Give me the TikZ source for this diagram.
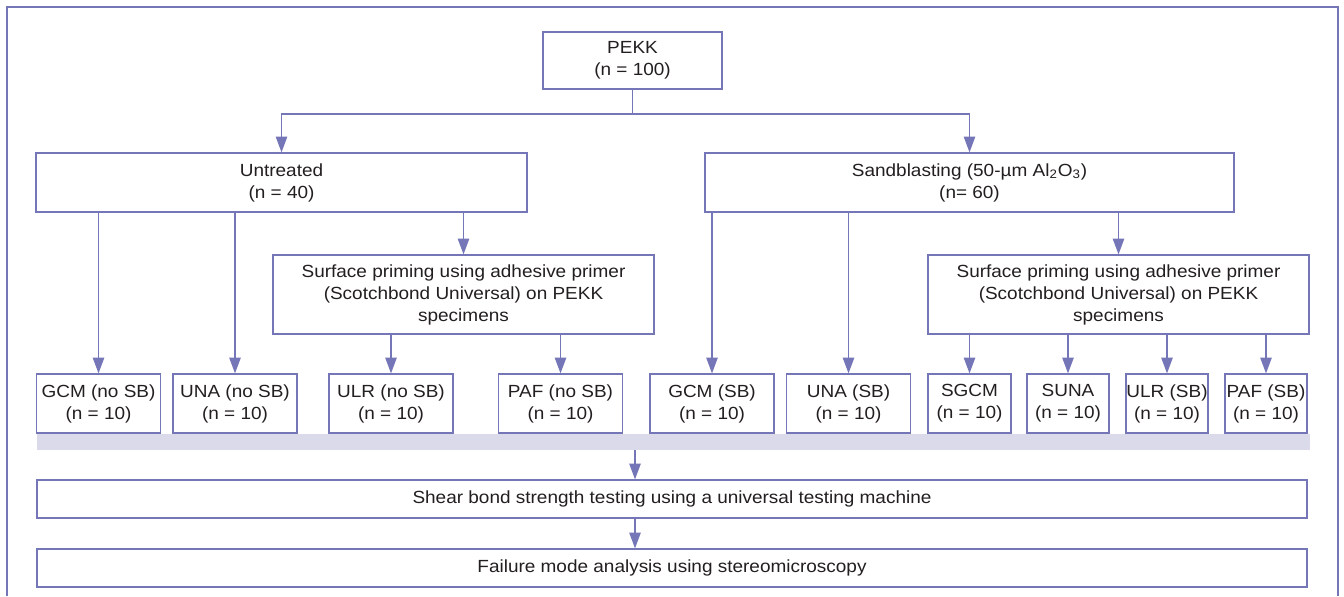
\documentclass[tikz,border=0pt]{standalone}
\usepackage{fontspec}
\setmainfont{Liberation Sans}[FakeStretch=1.08]
\usepackage{tikz}
\usetikzlibrary{calc,arrows.meta}
\definecolor{flowline}{HTML}{7476B8}
\definecolor{flowbar}{HTML}{DADAEB}
\definecolor{flowtext}{HTML}{231F20}
\def\pu{0.02cm}
\tikzset{>={Triangle[length=9pt,width=6.5pt]},
    box/.style={draw=flowline, line width=0.7pt, fill=white, align=center,
        text=flowtext, inner sep=0pt, font=\fontsize{10}{12.5}\selectfont},
    sz/.style 2 args={minimum width=#1*\pu, minimum height=#2*\pu},
    link/.style={draw=flowline, line width=0.8pt}}

\begin{document}
\begin{tikzpicture}[x=0.02cm, y=-0.02cm]
    \useasboundingbox (0,0) rectangle (1344,596);
    \draw[flowline, line width=0.6pt] (7,596) -- (7,7) -- (1338,7) -- (1338,596);
    % groups
    \node[box, sz={179}{57}] at (632.5, 60.5) (pekk) {PEKK\\(n = 100)};
    \node[box, sz={491}{59}] at (281.5, 182.5) (untr) {Untreated\\(n = 40)};
    \node[box, sz={529}{59}] at (969.5, 182.5) (sand)
        {Sandblasting (50-µm Al\textsubscript{2}O\textsubscript{3})\\(n= 60)};
    \node[box, sz={381}{79}] at (463.5, 294.5) (primu)
        {Surface priming using adhesive primer\\(Scotchbond Universal) on PEKK\\specimens};
    \node[box, sz={381}{79}] at (1118.5, 294.5) (prims)
        {Surface priming using adhesive primer\\(Scotchbond Universal) on PEKK\\specimens};
    % specimen groups
    \node[box, sz={124}{59}] at (98.5, 403.5) (gcmu) {GCM (no SB)\\(n = 10)};
    \node[box, sz={124}{59}] at (235, 403.5) (unau) {UNA (no SB)\\(n = 10)};
    \node[box, sz={124}{59}] at (391, 403.5) (ulru) {ULR (no SB)\\(n = 10)};
    \node[box, sz={124}{59}] at (560.5, 403.5) (pafu) {PAF (no SB)\\(n = 10)};
    \node[box, sz={124}{59}] at (712, 403.5) (gcms) {GCM (SB)\\(n = 10)};
    \node[box, sz={124}{59}] at (848.5, 403.5) (unas) {UNA (SB)\\(n = 10)};
    \node[box, sz={83}{59}] at (969.5, 403.5) (sgcm) {SGCM\\(n = 10)};
    \node[box, sz={82}{59}] at (1068, 403.5) (suna) {SUNA\\(n = 10)};
    \node[box, sz={82}{59}] at (1167, 403.5) (ulrs) {ULR (SB)\\(n = 10)};
    \node[box, sz={82}{59}] at (1266, 403.5) (pafs) {PAF (SB)\\(n = 10)};
    \node[fill=flowbar, inner sep=0pt, sz={1273}{16}] at (673.5, 442) (bar) {};
    % testing
    \node[box, sz={1270}{38}] at (672, 499) (shear)
        {Shear bond strength testing using a universal testing machine};
    \node[box, sz={1270}{38}] at (672, 568) (fail)
        {Failure mode analysis using stereomicroscopy};
    % connectors
    \coordinate (split) at (632.5, 114);
    \coordinate (mid) at (635, 0);
    \draw[link] (pekk) -- (split);
    \draw[link, ->] (split) -| (untr.north);
    \draw[link, ->] (split) -| (sand.north);
    \draw[link, ->] (untr.south -| gcmu) -- (gcmu.north);
    \draw[link, ->] (untr.south -| unau) -- (unau.north);
    \draw[link, ->] (untr.south -| primu) -- (primu.north);
    \draw[link, ->] (primu.south -| ulru) -- (ulru.north);
    \draw[link, ->] (primu.south -| pafu) -- (pafu.north);
    \draw[link, ->] (sand.south -| gcms) -- (gcms.north);
    \draw[link, ->] (sand.south -| unas) -- (unas.north);
    \draw[link, ->] (sand.south -| prims) -- (prims.north);
    \draw[link, ->] (prims.south -| sgcm) -- (sgcm.north);
    \draw[link, ->] (prims.south -| suna) -- (suna.north);
    \draw[link, ->] (prims.south -| ulrs) -- (ulrs.north);
    \draw[link, ->] (prims.south -| pafs) -- (pafs.north);
    \draw[link, ->] (bar.south -| mid) -- (shear.north -| mid);
    \draw[link, ->] (shear.south -| mid) -- (fail.north -| mid);
\end{tikzpicture}
\end{document}
